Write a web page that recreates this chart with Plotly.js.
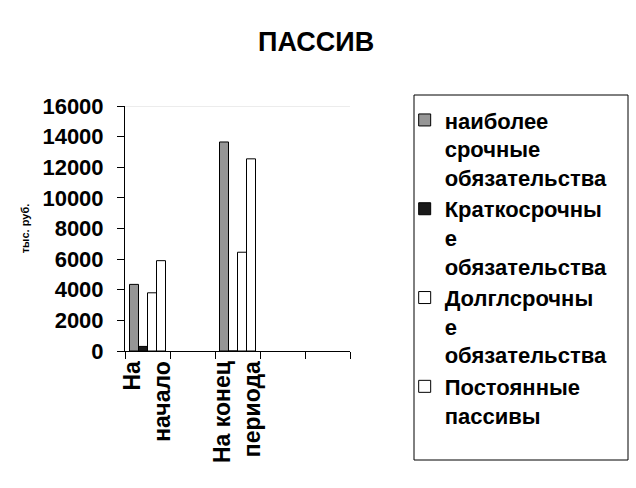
<!DOCTYPE html>
<html>
<head>
<meta charset="utf-8">
<script src="https://cdn.plot.ly/plotly-3.0.1.min.js"></script>
<style>
  html, body { margin: 0; padding: 0; background: #fff; }
  #chart { width: 636px; height: 488px; }
</style>
</head>
<body>
<div id="chart"></div>
<script>
const categories = ['На<br>начало', ' ', 'На конец<br>периода', '  ', '   '];
const seriesNames = [
  'наиболее<br>срочные<br>обязательства',
  'Краткосрочны<br>е<br>обязательства',
  'Долглсрочны<br>е<br>обязательства',
  'Постоянные<br>пассивы'
];
const urgent = [4350, null, 13650, null, null];
const shortTerm = [300, null, 0, null, null];
const longTerm = [3800, null, 6450, null, null];
const permanent = [5900, null, 12550, null, null];
const colors = ['#969696', '#1a1a1a', '#ffffff', '#ffffff'];

const font = 'Arial, "Liberation Sans", sans-serif';

const traces = [urgent, shortTerm, longTerm, permanent].map((vals, i) => ({
  x: categories,
  y: vals,
  name: seriesNames[i],
  type: 'bar',
  marker: { color: colors[i], line: { color: '#000', width: 1 } }
}));

const layout = {
  width: 636,
  height: 488,
  margin: { l: 125, r: 286, t: 106, b: 137 },
  paper_bgcolor: '#fff',
  plot_bgcolor: '#fff',
  title: {
    text: '<b>ПАССИВ</b>',
    font: { family: font, size: 27, color: '#000' },
    x: 0.497, xanchor: 'center',
    y: 0.915, yanchor: 'middle'
  },
  barmode: 'group',
  bargap: 0.2,
  bargroupgap: 0,
  xaxis: {
    type: 'category',
    showline: true, linecolor: '#000', linewidth: 1,
    ticks: 'outside', tickson: 'boundaries', ticklen: 7, tickcolor: '#000',
    tickangle: -90,
    tickfont: { family: font, size: 23, color: '#000', weight: 'bold' },
    showgrid: false, zeroline: false
  },
  yaxis: {
    range: [0, 16000], dtick: 2000, tickformat: 'd',
    showline: true, linecolor: '#000', linewidth: 1,
    ticks: 'outside', ticklen: 7, tickcolor: '#000',
    ticklabelstandoff: 9,
    tickfont: { family: font, size: 22, color: '#000', weight: 'bold' },
    showgrid: false, zeroline: false,
    title: { text: 'тыс. руб.', font: { family: font, size: 11, color: '#000', weight: 'bold' }, standoff: 10 }
  },
  showlegend: true,
  legend: {
    x: 1.243, xanchor: 'left',
    y: 1.028, yanchor: 'top',
    font: { family: font, size: 22, color: '#000', weight: 'bold' },
    bgcolor: 'rgba(0,0,0,0)',
    borderwidth: 0,
    valign: 'top',
    maxheight: 1000,
    traceorder: 'normal'
  },
  shapes: [
    { type: 'line', xref: 'paper', yref: 'y', x0: 0, x1: 1, y0: 16000, y1: 16000,
      line: { color: '#d9d9d9', width: 1 } },
    { type: 'rect', xref: 'paper', yref: 'paper',
      x0: (414 - 125) / 225, x1: (628 - 125) / 225,
      y0: (351 - 460) / 245, y1: (351 - 95) / 245,
      line: { color: '#000', width: 1 }, fillcolor: 'rgba(0,0,0,0)' }
  ]
};

Plotly.newPlot('chart', traces, layout, { displayModeBar: false, staticPlot: true });
</script>
</body>
</html>
